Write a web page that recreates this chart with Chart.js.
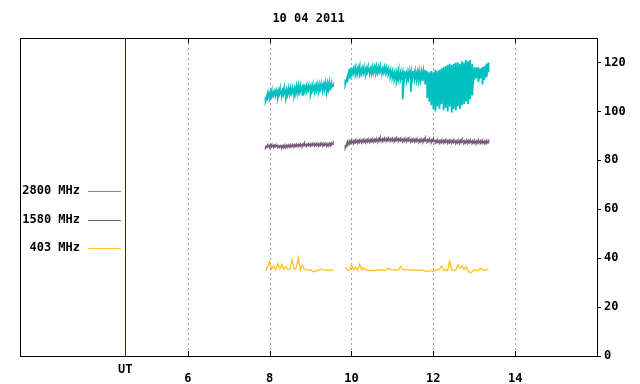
<!DOCTYPE html>
<html>
<head>
<meta charset="utf-8">
<script src="https://cdn.jsdelivr.net/npm/chart.js@4/dist/chart.umd.min.js"></script>
<style>
  html, body { margin: 0; padding: 0; background: #fff; }
  #wrap { width: 640px; height: 384px; }
</style>
</head>
<body>
<div id="wrap"><canvas id="flux-chart"></canvas></div>
<script>
// Chart data
const TITLE = '10 04 2011';
const X_MIN = 1.9;
const X_MAX = 16;
const UT_POS = 4.47;
const X_TICKS = [6, 8, 10, 12, 14];
const Y_TICKS = [0, 20, 40, 60, 80, 100, 120];
const GAP_TIME = 9.7;
const SERIES_LABELS = ['2800 MHz', '1580 MHz', '403 MHz'];
const SERIES_COLORS = ['#00c0c0', '#7a5a7c', '#ffc020'];

// hours UT, first and second observing block
const times1 = [7.90, 7.95, 8.00, 8.05, 8.10, 8.15, 8.20, 8.25, 8.30, 8.35,
                8.40, 8.45, 8.50, 8.55, 8.60, 8.65, 8.70, 8.75, 8.80, 8.85,
                8.90, 8.95, 9.00, 9.05, 9.10, 9.15, 9.20, 9.25, 9.30, 9.35,
                9.40, 9.45, 9.50, 9.55];
const times2 = [9.85, 9.90, 9.95,
                10.00, 10.05, 10.10, 10.15, 10.20, 10.25, 10.30, 10.35, 10.40, 10.45,
                10.50, 10.55, 10.60, 10.65, 10.70, 10.75, 10.80, 10.85, 10.90, 10.95,
                11.00, 11.05, 11.10, 11.15, 11.20, 11.25, 11.30, 11.35, 11.40, 11.45,
                11.50, 11.55, 11.60, 11.65, 11.70, 11.75, 11.80, 11.85, 11.90, 11.95,
                12.00, 12.05, 12.10, 12.15, 12.20, 12.25, 12.30, 12.35, 12.40, 12.45,
                12.50, 12.55, 12.60, 12.65, 12.70, 12.75, 12.80, 12.85, 12.90, 12.95,
                13.00, 13.05, 13.10, 13.15, 13.20, 13.25, 13.30, 13.35];

// 2800 MHz, upper and lower edge of the noisy trace at each time
const flux2800aHi = [106, 107.5, 107.5, 108.5, 108, 108.5, 108.5, 109, 108.5, 109.5,
                     109, 109, 109.5, 109.5, 109.5, 110, 110.5, 110.5, 110, 111,
                     110.5, 110.5, 110.5, 110.5, 110.5, 111, 111, 111, 111, 111.5,
                     111.5, 111.5, 111.5, 111];
const flux2800aLo = [104.5, 105.5, 105.5, 106, 106.5, 106.5, 105.5, 107, 106.5, 107,
                     105.5, 107, 107, 107.5, 106.5, 107.5, 107.5, 108, 106.5, 108,
                     108, 108.5, 107, 108.5, 108, 108.5, 108, 109, 108.5, 109,
                     108, 109, 109.5, 110];
const flux2800bHi = [113, 114, 117.5,
                     118, 117.5, 118, 117.5, 118.5, 117.5, 118, 117.5, 118, 117.5,
                     118, 118, 118.5, 118, 118.5, 117.5, 118, 118, 117.5, 117,
                     116.5, 116, 116, 116.5, 116, 116, 116.5, 116, 116, 116.5,
                     116.5, 116.5, 116, 116.5, 116, 116.5, 117, 116.5, 116, 116.5,
                     116, 117, 116.5, 117, 117.5, 118, 118.5, 119, 119.5, 119,
                     119.5, 120, 120, 119.5, 120.5, 120, 121, 120.5, 121, 119.5,
                     118, 118, 118, 117.5, 118, 118.5, 119.5, 120];
const flux2800bLo = [111, 112, 113.5,
                     115, 115.5, 115, 115.5, 115, 115.5, 115.5, 115, 116, 115.5,
                     115.5, 116, 115.5, 116, 116, 115.5, 116, 115.5, 115, 114,
                     113.5, 113, 112.5, 113, 113, 105, 113.5, 112.5, 113.5, 108,
                     113.5, 113, 113, 112.5, 113, 112.5, 111, 105.5, 104, 102.5,
                     101, 100, 102, 101, 103, 100.5, 101.5, 100, 102, 99.5,
                     101, 100.5, 102, 101, 102.5, 103, 104, 103, 105, 106.5,
                     113, 113.5, 112, 113.5, 111, 113, 114, 116];

// 1580 MHz
const flux1580aHi = [86.0, 86.3, 86.2, 86.4, 86.2, 86.3, 86.1, 86.0, 86.0, 86.2,
                     86.1, 86.3, 86.3, 86.3, 86.4, 86.5, 86.5, 86.7, 86.5, 87.2,
                     86.6, 86.8, 86.7, 86.9, 86.8, 86.9, 86.8, 87.0, 86.9, 86.9,
                     86.8, 86.9, 87.0, 87.2];
const flux1580aLo = [85.0, 85.4, 85.2, 85.5, 85.3, 85.5, 85.2, 85.3, 85.0, 85.2,
                     85.2, 85.4, 85.4, 85.6, 85.5, 85.7, 85.6, 85.8, 85.6, 86.0,
                     85.8, 86.0, 85.8, 86.1, 85.9, 86.0, 85.8, 86.1, 85.9, 86.1,
                     85.8, 86.0, 86.0, 86.3];
const flux1580bHi = [86.2, 87.4, 87.8,
                     88.1, 88.0, 88.3, 88.2, 88.4, 88.3, 88.5, 88.4, 88.6, 88.5,
                     88.7, 88.6, 88.8, 88.7, 89.4, 88.8, 89.0, 88.9, 89.1, 88.9,
                     89.0, 88.8, 89.1, 88.9, 89.0, 88.7, 88.9, 88.8, 89.0, 88.6,
                     88.8, 88.6, 88.8, 88.5, 88.7, 88.5, 89.2, 88.5, 88.7, 88.4,
                     88.9, 88.2, 88.4, 88.1, 88.3, 88.2, 88.4, 88.1, 88.3, 88.2,
                     88.3, 88.0, 88.2, 88.1, 88.6, 88.0, 88.2, 88.1, 88.3, 88.0,
                     88.1, 87.9, 88.2, 88.0, 88.1, 87.9, 88.0, 88.0];
const flux1580bLo = [85.2, 86.2, 86.7,
                     87.0, 86.9, 87.2, 87.1, 87.3, 87.2, 87.4, 87.3, 87.5, 87.4,
                     87.6, 87.5, 87.7, 87.6, 87.9, 87.7, 87.9, 87.8, 88.0, 87.8,
                     87.9, 87.7, 88.0, 87.8, 87.9, 87.6, 87.8, 87.7, 87.9, 87.5,
                     87.7, 87.5, 87.7, 87.4, 87.6, 87.4, 87.8, 87.4, 87.6, 87.3,
                     87.7, 87.1, 87.3, 87.0, 87.2, 87.1, 87.3, 87.0, 87.2, 87.1,
                     87.2, 86.9, 87.1, 87.0, 87.4, 86.9, 87.1, 87.0, 87.2, 86.9,
                     87.0, 86.8, 87.1, 86.9, 87.0, 86.8, 86.9, 86.9];

// 403 MHz
const flux403a = [34.8, 36.5, 38.5, 35.5, 36.8, 35.2, 37.8, 35.6, 37.5, 35.4,
                  36.5, 35.2, 35.8, 39.3, 35.4, 36.0, 40.2, 35.2, 37.2, 35.4,
                  35.2, 35.0, 35.3, 34.6, 34.4, 34.9, 35.1, 35.6, 35.3, 35.1,
                  35.2, 35.0, 35.1, 35.0];
const flux403b = [36.4, 35.0, 35.1,
                  37.2, 35.2, 36.4, 35.1, 37.5, 35.3, 36.0, 35.2, 35.0, 34.9,
                  35.1, 35.0, 34.9, 35.2, 35.1, 35.3, 35.0, 35.1, 35.9, 35.3,
                  35.2, 35.1, 35.4, 35.2, 36.6, 35.3, 35.4, 35.2, 35.1, 35.2,
                  35.3, 35.1, 35.2, 35.0, 34.9, 35.1, 34.7, 34.6, 34.8, 35.0,
                  34.6, 35.0, 35.2, 35.5, 36.8, 35.1, 35.2, 35.0, 38.9, 35.2,
                  35.0, 35.1, 37.3, 35.8, 36.9, 35.4, 36.6, 34.8, 34.0, 34.5,
                  35.2, 35.0, 34.8, 35.9, 35.3, 35.0, 35.4, 35.2];

const FONT = { family: "'DejaVu Sans Mono', monospace", size: 12, weight: 'bold' };

// Join both observing blocks with a break in between
function buildSeries(valsA, valsB) {
    const pts = times1.map((t, i) => ({ x: t, y: valsA[i] }));
    pts.push({ x: GAP_TIME, y: null });
    times2.forEach((t, i) => pts.push({ x: t, y: valsB[i] }));
    return pts;
}

// Same, but each sample is drawn as a stroke from its upper to its lower edge
function buildBand(hiA, loA, hiB, loB) {
    const pts = [];
    times1.forEach((t, i) => pts.push({ x: t, y: hiA[i] }, { x: t, y: loA[i] }));
    pts.push({ x: GAP_TIME, y: null });
    times2.forEach((t, i) => pts.push({ x: t, y: hiB[i] }, { x: t, y: loB[i] }));
    return pts;
}

// Frame, dashed grid, UT marker, title and the gnuplot style key
const framePlugin = {
    id: 'frame',
    beforeDatasetsDraw(chart) {
        const { ctx, chartArea: a, scales } = chart;
        ctx.save();
        ctx.strokeStyle = '#a0a0a0';
        ctx.lineWidth = 1;
        ctx.setLineDash([2, 3]);
        X_TICKS.forEach(v => {
            const x = Math.round(scales.x.getPixelForValue(v)) + 0.5;
            ctx.beginPath();
            ctx.moveTo(x, a.top);
            ctx.lineTo(x, a.bottom);
            ctx.stroke();
        });
        ctx.setLineDash([]);
        ctx.strokeStyle = '#8c0000';
        const ux = Math.round(scales.x.getPixelForValue(UT_POS)) + 0.5;
        ctx.beginPath();
        ctx.moveTo(ux, a.top);
        ctx.lineTo(ux, a.bottom);
        ctx.stroke();
        ctx.restore();
    },
    afterDatasetsDraw(chart) {
        const { ctx, chartArea: a, scales } = chart;
        ctx.save();
        ctx.strokeStyle = '#000';
        ctx.lineWidth = 1;
        ctx.strokeRect(Math.round(a.left) + 0.5, Math.round(a.top) + 0.5,
                       Math.round(a.right - a.left), Math.round(a.bottom - a.top));
        X_TICKS.forEach(v => {
            const x = Math.round(scales.x.getPixelForValue(v)) + 0.5;
            ctx.beginPath();
            ctx.moveTo(x, a.bottom);
            ctx.lineTo(x, a.bottom - 5);
            ctx.moveTo(x, a.top);
            ctx.lineTo(x, a.top + 5);
            ctx.stroke();
        });

        ctx.fillStyle = '#000';
        ctx.font = `${FONT.weight} ${FONT.size}px ${FONT.family}`;
        ctx.textAlign = 'center';
        ctx.textBaseline = 'middle';
        ctx.fillText(TITLE, (a.left + a.right) / 2, 19);
        ctx.fillText('UT', scales.x.getPixelForValue(UT_POS), a.bottom + 14);

        // key, inside the left part of the frame
        SERIES_LABELS.forEach((label, i) => {
            const y = Math.round(a.top + 153 + i * 28.5);
            ctx.textAlign = 'right';
            ctx.fillStyle = '#000';
            ctx.fillText(label, a.left + 60, y);
            ctx.strokeStyle = SERIES_COLORS[i];
            ctx.lineWidth = 1;
            ctx.beginPath();
            ctx.moveTo(a.left + 68, y + 0.5);
            ctx.lineTo(a.left + 101, y + 0.5);
            ctx.stroke();
        });
        ctx.restore();
    }
};

const fluxChart = new Chart(document.getElementById('flux-chart'), {
    type: 'line',
    data: {
        datasets: [{
            label: SERIES_LABELS[0],
            data: buildBand(flux2800aHi, flux2800aLo, flux2800bHi, flux2800bLo),
            borderColor: SERIES_COLORS[0],
            borderWidth: 1.8
        }, {
            label: SERIES_LABELS[1],
            data: buildBand(flux1580aHi, flux1580aLo, flux1580bHi, flux1580bLo),
            borderColor: SERIES_COLORS[1],
            borderWidth: 1.5
        }, {
            label: SERIES_LABELS[2],
            data: buildSeries(flux403a, flux403b),
            borderColor: SERIES_COLORS[2],
            borderWidth: 1.3
        }]
    },
    options: {
        responsive: true,
        maintainAspectRatio: false,
        animation: false,
        spanGaps: false,
        elements: {
            point: { radius: 0 },
            line: { tension: 0 }
        },
        layout: {
            padding: { left: 20, top: 38, right: 0, bottom: 0 }
        },
        plugins: {
            legend: { display: false },
            title: { display: false },
            tooltip: { enabled: false }
        },
        scales: {
            x: {
                type: 'linear',
                min: X_MIN,
                max: X_MAX,
                afterBuildTicks: scale => {
                    scale.ticks = X_TICKS.map(v => ({ value: v }));
                },
                afterFit: scale => { scale.height = 28; },
                grid: { display: false },
                border: { display: false },
                ticks: {
                    padding: 8,
                    color: '#000',
                    font: FONT,
                    maxRotation: 0,
                    callback: v => String(v)
                }
            },
            y: {
                position: 'right',
                min: 0,
                max: 130,
                afterBuildTicks: scale => {
                    scale.ticks = Y_TICKS.map(v => ({ value: v }));
                },
                afterFit: scale => { scale.width = 43; },
                grid: {
                    drawOnChartArea: false,
                    drawTicks: true,
                    tickLength: 4,
                    color: '#000'
                },
                border: { display: true, color: '#000' },
                ticks: {
                    padding: 3,
                    color: '#000',
                    font: FONT,
                    callback: v => String(v)
                }
            }
        }
    },
    plugins: [framePlugin]
});
</script>
</body>
</html>
